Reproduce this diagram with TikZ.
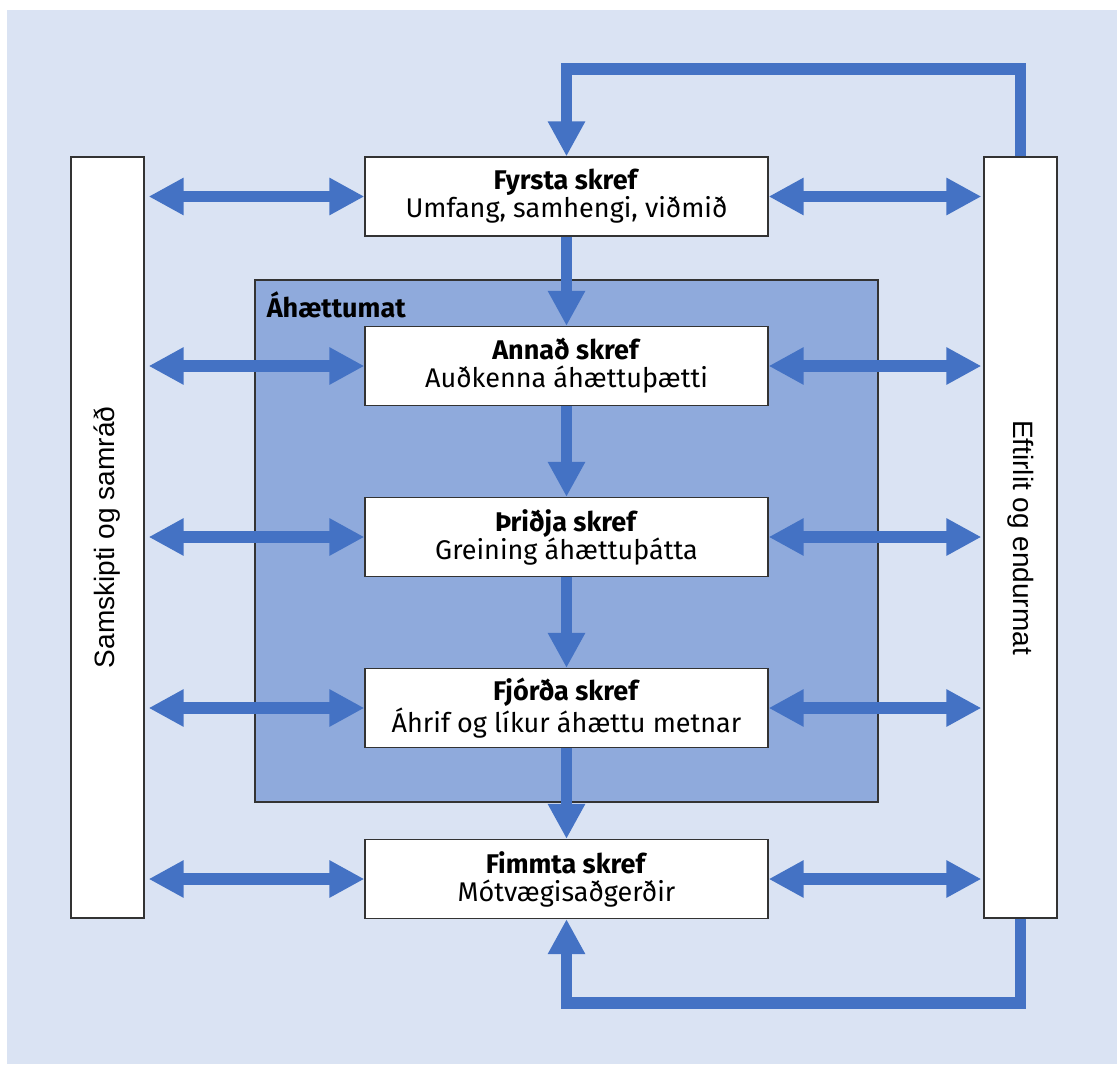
\documentclass[tikz,border=0pt]{standalone}
\usepackage{fontspec}
\setmainfont{Fira Sans}
\newfontfamily\sidefont{Liberation Sans}
\usetikzlibrary{arrows.meta}
\definecolor{paleblue}{RGB}{218,227,243}
\definecolor{riskblue}{RGB}{143,170,220}
\definecolor{flowblue}{RGB}{68,114,196}
\begin{document}
\begin{tikzpicture}[x=0.5pt,y=-0.5pt,
    stepbox/.style={draw=black!80,line width=0.6pt,fill=white,minimum width=201.5pt,
        minimum height=39.5pt,inner sep=0pt,align=center,font=\fontsize{13.5}{14}\selectfont},
    sidebox/.style={draw=black!80,line width=0.6pt,fill=white,minimum width=380.5pt,
        minimum height=36.5pt,inner sep=0pt,font=\sidefont\fontsize{14}{14}\selectfont},
    flow/.style={draw=flowblue,line width=5.8pt,line join=miter,
        -{Triangle[length=17.5pt,width=17.5pt]}},
    link/.style={flow,{Triangle[length=17.5pt,width=17.5pt]}-{Triangle[length=17.5pt,width=17.5pt]}}]
    \useasboundingbox (0,0) rectangle (1117,1064);
    \fill[paleblue] (7,10) rectangle (1117,1064);
    \node[draw=black!80,line width=0.6pt,fill=riskblue,minimum width=311.5pt,minimum height=261pt,
        label={[anchor=north west,inner sep=6pt,font=\bfseries\fontsize{13.5}{14}\selectfont]north west:Áhættumat}]
        (ahaettumat) at (566.5,541) {};
    \node[stepbox] (fyrsta) at (566.5,196.5) {\textbf{Fyrsta skref}\\Umfang, samhengi, viðmið};
    \node[stepbox] (annad) at (566.5,366) {\textbf{Annað skref}\\Auðkenna áhættuþætti};
    \node[stepbox] (thridja) at (566.5,537) {\textbf{Þriðja skref}\\Greining áhættuþátta};
    \node[stepbox] (fjorda) at (566.5,708) {\textbf{Fjórða skref}\\Áhrif og líkur áhættu metnar};
    \node[stepbox] (fimmta) at (566.5,879) {\textbf{Fimmta skref}\\Mótvægisaðgerðir};
    \node[sidebox,rotate=90] (samskipti) at (107.5,537.5) {Samskipti og samráð};
    \node[sidebox,rotate=-90] (eftirlit) at (1020.5,537.5) {Eftirlit og endurmat};
    \coordinate (looptop) at (566.5,69);
    \coordinate (loopbottom) at (566.5,1003);
    \draw[flow] (eftirlit.west) |- (looptop) -- (fyrsta.north);
    \draw[flow] (eftirlit.east) |- (loopbottom) -- (fimmta.south);
    \draw[flow] (fyrsta) -- (annad);
    \draw[flow] (annad) -- (thridja);
    \draw[flow] (thridja) -- (fjorda);
    \draw[flow] (fjorda) -- (fimmta);
    \foreach \s in {fyrsta,annad,thridja,fjorda,fimmta} {
        \draw[link,shorten <=2pt] (samskipti.south |- \s.west) -- (\s.west);
        \draw[link,shorten >=1pt] (\s.east) -- (eftirlit.south |- \s.east);
    }
\end{tikzpicture}
\end{document}
